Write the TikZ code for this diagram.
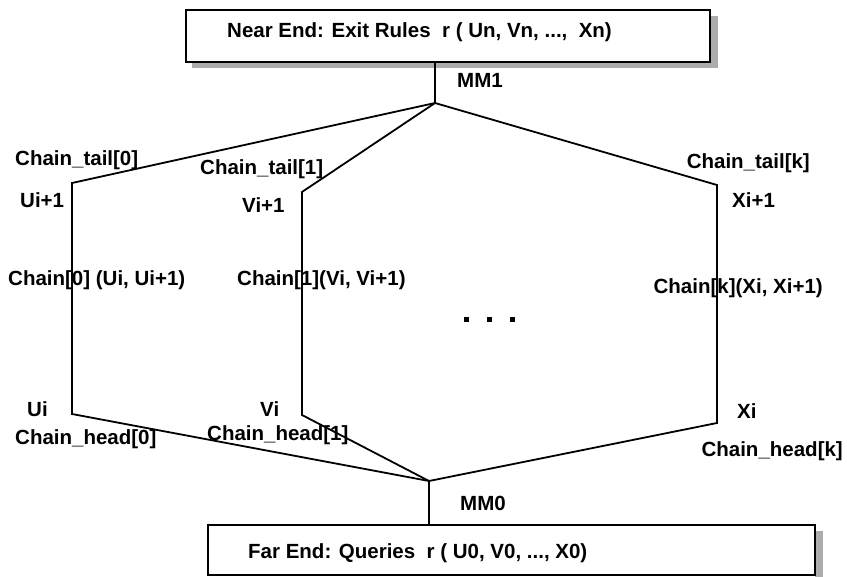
\documentclass[tikz,border=0pt]{standalone}
\usepackage{fontspec}
\setmainfont{Liberation Sans}
\begin{document}
\begin{tikzpicture}[x=1pt,y=-1pt,
  lbl/.style={font=\bfseries\fontsize{20.5}{24}\selectfont, inner sep=0pt, anchor=west},
  rlbl/.style={lbl, anchor=east},
  boxs/.style={draw=black, line width=1.8pt, fill=white},
  shd/.style={fill=gray!65},
  wire/.style={draw=black, line width=1.8pt},
  dotsq/.style={fill=black, minimum size=5pt, inner sep=0pt}]
\useasboundingbox (0,0) rectangle (847,577);
% top box
\fill[shd] (192,62) rectangle (718,68);
\fill[shd] (710,16) rectangle (718,68);
\draw[boxs] (186,10) rectangle (710,62);
\node[lbl] (top) at (227,32) {Near End: Exit Rules\ \ r ( Un, Vn, ...,\ \ Xn)};
% bottom box
\fill[shd] (815,531) rectangle (823,577);
\draw[boxs] (208,525) rectangle (815,575);
\node[lbl] (bot) at (248,553) {Far End: Queries\ \ r ( U0, V0, ..., X0)};
% junctions
\coordinate (t0) at (435,62);
\coordinate (mm1) at (435,103);
\coordinate (mm0) at (429,481);
\coordinate (b0) at (429,525);
\coordinate (a1) at (72,183);
\coordinate (a2) at (72,414);
\coordinate (c1) at (302,192);
\coordinate (c2) at (302,415);
\coordinate (k1) at (717,185);
\coordinate (k2) at (717,423);
\draw[wire] (t0) -- (mm1);
\draw[wire] (mm1) -- (a1) -- (a2) -- (mm0);
\draw[wire] (mm1) -- (c1) -- (c2) -- (mm0);
\draw[wire] (mm1) -- (k1) -- (k2) -- (mm0);
\draw[wire] (mm0) -- (b0);
% labels
\node[lbl] (lmm1) at (457,80) {MM1};
\node[lbl] (lmm0) at (460,503) {MM0};
\node[lbl] (ct0) at (15,160) {Chain\_tail[0]};
\node[lbl] (ct1) at (200,169) {Chain\_tail[1]};
\node[rlbl] (ctk) at (810,163) {Chain\_tail[k]};
\node[lbl] (u1) at (20,200) {Ui+1};
\node[lbl] (v1) at (242,205) {Vi+1};
\node[lbl] (x1) at (732,200) {Xi+1};
\node[lbl] (ch0) at (8,280) {Chain[0] (Ui, Ui+1)};
\node[lbl] (ch1) at (237,280) {Chain[1](Vi, Vi+1)};
\node[rlbl] (chk) at (823,288) {Chain[k](Xi, Xi+1)};
\node[lbl] (ui) at (27,409) {Ui};
\node[lbl] (vi) at (260,409) {Vi};
\node[lbl] (xi) at (737,411) {Xi};
\node[lbl] (ch0h) at (15,439) {Chain\_head[0]};
\node[lbl] (ch1h) at (207,435) {Chain\_head[1]};
\node[rlbl] (chkh) at (843,451) {Chain\_head[k]};
% dots
\node[dotsq] (d1) at (466,320) {};
\node[dotsq] (d2) at (489,320) {};
\node[dotsq] (d3) at (512,320) {};
\end{tikzpicture}
\end{document}
